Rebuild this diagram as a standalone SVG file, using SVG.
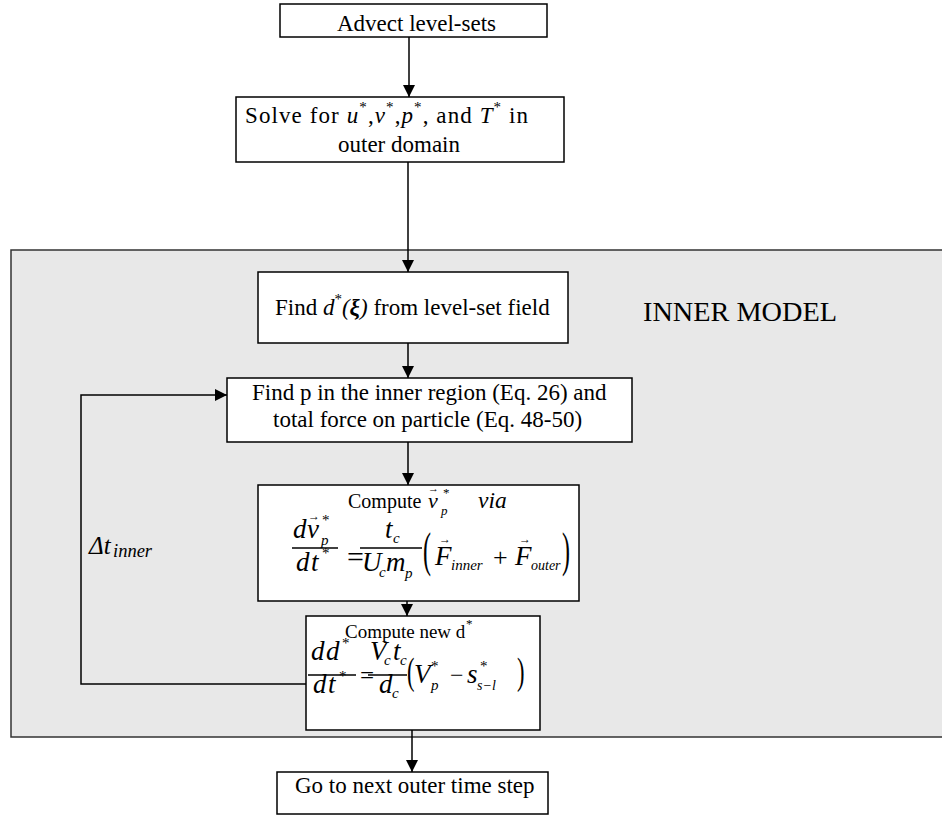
<svg xmlns="http://www.w3.org/2000/svg" width="942" height="815" viewBox="0 0 942 815">
<defs>
<marker id="ah" markerUnits="userSpaceOnUse" markerWidth="12" markerHeight="12" refX="12" refY="6" orient="auto">
<path d="M0,0 L12,6 L0,12 z" fill="#000"/>
</marker>
<style>
.box{fill:#fff;stroke:#000;stroke-width:1.5}
.panel{fill:#e8e8e8;stroke:#333;stroke-width:1.5}
text{font-family:"Liberation Serif","Times New Roman",serif;font-size:23px;fill:#000}
.i{font-style:italic}
.m{font-style:italic;font-size:27px}
.s{font-size:15px}
.si{font-size:15px;font-style:italic}
.acc{font-size:12px}
.edge{stroke:#000;stroke-width:1.5;fill:none}
</style>
</defs>
<rect width="942" height="815" fill="#fff"/>

<g id="inner-model">
<rect class="panel" x="11" y="250" width="945" height="487"/>
<text x="643" y="321" style="font-size:27.5px" textLength="194" lengthAdjust="spacingAndGlyphs">INNER MODEL</text>
<text class="i" x="89" y="554" style="font-size:25px">Δt</text>
<text class="i" x="113" y="557" style="font-size:18.5px">inner</text>
</g>

<g id="connectors">
<path class="edge" d="M409,37 V97" marker-end="url(#ah)"/>
<path class="edge" d="M408,162 V272" marker-end="url(#ah)"/>
<path class="edge" d="M408,343 V378" marker-end="url(#ah)"/>
<path class="edge" d="M408,442 V485" marker-end="url(#ah)"/>
<path class="edge" d="M407,601 V616" marker-end="url(#ah)"/>
<path class="edge" d="M412,730 V772" marker-end="url(#ah)"/>
<path class="edge" d="M306,684 H81 V395 H227" marker-end="url(#ah)"/>
</g>

<g id="advect">
<rect class="box" x="280" y="4" width="267" height="33"/>
<text x="337" y="31">Advect level-sets</text>
</g>

<g id="solve-outer">
<rect class="box" x="236" y="97" width="328" height="65"/>
<text x="245" y="123" textLength="283">Solve for <tspan class="i">u</tspan><tspan class="s" dy="-11">*</tspan><tspan dy="11">,</tspan><tspan class="i">v</tspan><tspan class="s" dy="-11">*</tspan><tspan dy="11">,</tspan><tspan class="i">p</tspan><tspan class="s" dy="-11">*</tspan><tspan dy="11">, and </tspan><tspan class="i">T</tspan><tspan class="s" dy="-11">*</tspan><tspan dy="11"> in</tspan></text>
<text x="399" y="152" text-anchor="middle">outer domain</text>
</g>

<g id="find-d">
<rect class="box" x="258" y="272" width="310" height="71"/>
<text x="275" y="315">Find <tspan class="i">d</tspan><tspan class="s" dy="-11">*</tspan><tspan class="i" dy="11">(<tspan style="font-weight:bold">ξ</tspan>)</tspan> from level-set field</text>
</g>

<g id="find-p">
<rect class="box" x="227" y="378" width="405" height="64"/>
<text x="252" y="400">Find p in the inner region (Eq. 26) and</text>
<text x="273" y="427">total force on particle (Eq. 48-50)</text>
</g>

<g id="compute-v">
<rect class="box" x="258" y="485" width="321" height="116"/>
<text x="348" y="508" style="font-size:20px">Compute</text>
<text class="i" x="428" y="508" style="font-size:22px">v</text>
<text class="acc" x="428" y="492" style="font-size:11px">→</text>
<text class="s" x="443" y="497" style="font-size:13px">*</text>
<text class="si" x="441" y="515" style="font-size:13px">p</text>
<text class="i" x="478" y="508" style="font-size:23.5px">via</text>

<text class="m" x="293" y="538">d</text>
<text class="m" x="307" y="538">v</text>
<text class="acc" x="308" y="520">→</text>
<text class="s" x="322" y="525">*</text>
<text class="si" x="321" y="545">p</text>
<line class="edge" x1="292" y1="548" x2="338" y2="548"/>
<text class="m" x="296" y="571">d</text>
<text class="m" x="311" y="571">t</text>
<text class="s" x="322" y="558">*</text>

<text x="347" y="567" style="font-size:30px">=</text>

<text class="m" x="385" y="538">t</text>
<text class="si" x="393" y="543">c</text>
<line class="edge" x1="360" y1="548" x2="422" y2="548"/>
<text class="m" x="362" y="571">U</text>
<text class="si" x="379" y="577">c</text>
<text class="m" x="386" y="571">m</text>
<text class="si" x="405" y="578">p</text>

<text transform="translate(423,566) scale(0.75,1.5)" style="font-size:32px">(</text>
<text class="m" x="435" y="565">F</text>
<text class="acc" x="439" y="543">→</text>
<text class="si" x="451" y="570">inner</text>
<text x="493" y="566" style="font-size:26px">+</text>
<text class="m" x="515" y="565">F</text>
<text class="acc" x="519" y="543">→</text>
<text class="si" x="531" y="570" style="font-size:14px">outer</text>
<text transform="translate(562,566) scale(0.75,1.5)" style="font-size:32px">)</text>
</g>

<g id="compute-d">
<rect class="box" x="306" y="616" width="234" height="114"/>
<text x="345" y="638" style="font-size:19px">Compute new d</text>
<text class="s" x="466" y="628" style="font-size:13px">*</text>

<text class="m" x="311" y="660">d</text>
<text class="m" x="326" y="660">d</text>
<text class="s" x="342" y="648">*</text>
<line class="edge" x1="308" y1="675" x2="356" y2="675"/>
<text class="m" x="313" y="693">d</text>
<text class="m" x="328" y="693">t</text>
<text class="s" x="339" y="681">*</text>

<text x="360" y="684" style="font-size:25px">=</text>

<text class="m" x="370" y="660">V</text>
<text class="si" x="384" y="665">c</text>
<text class="m" x="393" y="660">t</text>
<text class="si" x="400" y="665">c</text>
<line class="edge" x1="368" y1="675" x2="407" y2="675"/>
<text class="m" x="379" y="693">d</text>
<text class="si" x="392" y="698">c</text>

<text transform="translate(407,684) scale(0.75,1.25)" style="font-size:30px">(</text>
<text class="m" x="414" y="683">V</text>
<text class="s" x="431" y="671">*</text>
<text class="si" x="431" y="690">p</text>
<text x="450" y="683" style="font-size:24px">−</text>
<text class="m" x="467" y="683">s</text>
<text class="s" x="480" y="671">*</text>
<text class="si" x="477" y="690" style="font-size:14px">s−l</text>
<text transform="translate(517,684) scale(0.75,1.25)" style="font-size:30px">)</text>
</g>

<g id="next-step">
<rect class="box" x="277" y="772" width="271" height="42"/>
<text x="295" y="793">Go to next outer time step</text>
</g>
</svg>
